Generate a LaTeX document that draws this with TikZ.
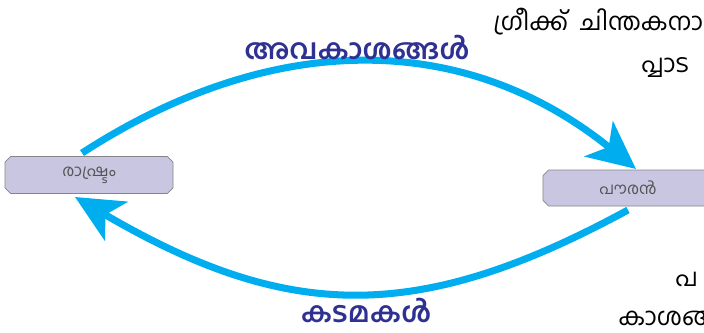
\documentclass[tikz,border=0pt]{standalone}
\usepackage{fontspec}
\newfontfamily\malfont[Script=Malayalam]{Hind Kochi}
\usetikzlibrary{arrows.meta,shapes.misc}
\definecolor{skyline}{HTML}{00AEEF}
\definecolor{inkblue}{HTML}{2E3192}
\definecolor{boxfill}{HTML}{C9C6E2}
\definecolor{boxedge}{HTML}{858585}
\definecolor{boxtext}{HTML}{555555}

\begin{document}
\begin{tikzpicture}[x=0.025cm,y=-0.025cm,font=\malfont,
  actor/.style={chamfered rectangle,chamfered rectangle xsep=2pt,chamfered rectangle ysep=2pt,
    fill=boxfill,draw=boxedge,line width=.6pt,text=boxtext,font=\malfont\fontsize{11.5}{12}\selectfont},
  flow/.style={skyline,line width=5pt,-{Stealth[length=34pt,width=32pt,inset=9pt]}},
  tag/.style={inkblue,inner sep=0pt,font=\malfont\bfseries\fontsize{20}{22}\selectfont},
  para/.style={anchor=base west,inner sep=0pt,font=\malfont\fontsize{17.5}{19}\selectfont}]
\useasboundingbox (0,0) rectangle (704,332);
\clip (0,0) rectangle (704,332);
% the two parties
\node[actor,minimum width=168*0.025cm,minimum height=37*0.025cm] (state) at (89,175){രാഷ്ട്രം};
\node[actor,minimum width=170*0.025cm,minimum height=36*0.025cm] (citizen) at (628,188){പൗരൻ};
\coordinate (s1) at (82,153);\coordinate (c1) at (636,169);
\coordinate (c2) at (628,210);\coordinate (s2) at (75,197);
% rights go one way, duties the other
\draw[flow] (s1) .. controls (272,30) and (464,30) .. (c1);
\draw[flow] (c2) .. controls (420,323) and (290,323) .. (s2);
\node[tag] (rights) at (357,47){അവകാശങ്ങൾ};
\node[tag] (duties) at (366,310){കടമകൾ};
% cut-off page text on the right
\foreach \x/\y/\t [count=\i] in {493/30/ഗ്രീക്ക്\ \ ചിന്തകനാ,641/72/പ്പാട,675/286/പ,618/325/കാശങ്ങ}
  \node[para] (txt\i) at (\x,\y){\t};
\end{tikzpicture}
\end{document}
